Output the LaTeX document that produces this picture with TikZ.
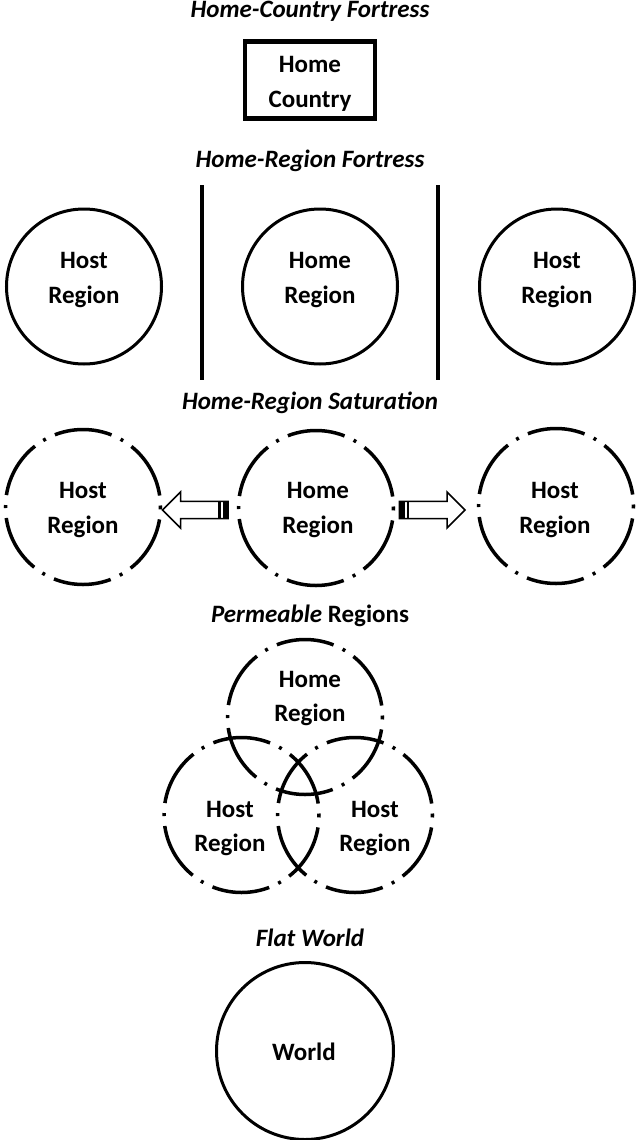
\documentclass[tikz,border=0pt]{standalone}
\usepackage{fontspec}
\setmainfont{Carlito}

\begin{document}
\begin{tikzpicture}[
        x=1pt, y=-1pt,
        every node/.style={font=\fontsize{25}{34.5}\selectfont\bfseries},
        heading/.style={anchor=base, font=\fontsize{25}{34.5}\selectfont\bfseries\itshape},
        caption/.style={anchor=base, align=center},
        region/.style={circle, draw, line width=3pt, minimum size=155pt, inner sep=0pt},
        open region/.style={region, line width=3.5pt, dash pattern=on 58pt off 10pt on 3pt off 10pt, dash phase=69.5pt},
        fortress/.style={draw, line width=4.5pt, minimum width=130pt, minimum height=77pt, inner sep=0pt},
        wall/.style={line width=4pt},
        block/.style={draw, line width=1.5pt, fill=white, line join=miter}
    ]

    \useasboundingbox (0,0) rectangle (636,1140);

    % home-country fortress
    \node[heading] (t-country) at (310,18) {Home-Country Fortress};
    \node[fortress] (country) at (310,80) {};
    \node[caption] (country-txt) at (310,107.3) {Home\\Country};

    % home-region fortress
    \node[heading] (t-fortress) at (310,167) {Home-Region Fortress};
    \node[region] (fort-west) at (84,286.5) {};
    \node[region] (fort-home) at (320,286.5) {};
    \node[region] (fort-east) at (557,286.5) {};
    \node[caption] (fort-west-txt) at (84,303.3) {Host\\Region};
    \node[caption] (fort-home-txt) at (320,303.3) {Home\\Region};
    \node[caption] (fort-east-txt) at (557,303.3) {Host\\Region};
    \coordinate (wall-w-top) at (202,185);
    \coordinate (wall-w-bot) at (202,380);
    \coordinate (wall-e-top) at (438,185);
    \coordinate (wall-e-bot) at (438,380);
    \draw[wall] (wall-w-top) -- (wall-w-bot);
    \draw[wall] (wall-e-top) -- (wall-e-bot);

    % home-region saturation
    \node[heading] (t-saturation) at (310,409) {Home-Region Saturation};
    \node[open region] (sat-west) at (83,507) {};
    \node[open region] (sat-home) at (316,508) {};
    \node[open region] (sat-east) at (556,506) {};
    \node[caption] (sat-west-txt) at (83,533.3) {Host\\Region};
    \node[caption] (sat-home-txt) at (318,533.3) {Home\\Region};
    \node[caption] (sat-east-txt) at (555,533.3) {Host\\Region};
    \draw[block] (162.5,510) -- (180.5,492) -- (180.5,501.3) -- (228,501.3)
        -- (228,518.7) -- (180.5,518.7) -- (180.5,528) -- cycle;
    \fill (223.3,501.3) rectangle (228,518.7);
    \fill (218.3,501.3) rectangle (221,518.7);
    \draw[block] (465,510) -- (447,492) -- (447,501.3) -- (399.3,501.3)
        -- (399.3,518.7) -- (447,518.7) -- (447,528) -- cycle;
    \fill (399.3,501.3) rectangle (405,518.7);
    \fill (406.7,501.3) rectangle (409.3,518.7);

    % permeable regions
    \node[anchor=base] (t-permeable) at (310,622.7) {\textit{Permeable} Regions};
    \node[open region] (perm-home) at (305,717) {};
    \node[open region] (perm-west) at (241.5,815) {};
    \node[open region] (perm-east) at (355,815) {};
    \node[caption] (perm-home-txt) at (310,721.7) {Home\\Region};
    \node[caption] (perm-west-txt) at (230,851.7) {Host\\Region};
    \node[caption] (perm-east-txt) at (375,851.7) {Host\\Region};

    % flat world
    \node[heading] (t-flat) at (310,946) {Flat World};
    \node[region, minimum size=177pt] (world) at (305,1051) {};
    \node[anchor=base] (world-txt) at (304,1060) {World};

\end{tikzpicture}
\end{document}
